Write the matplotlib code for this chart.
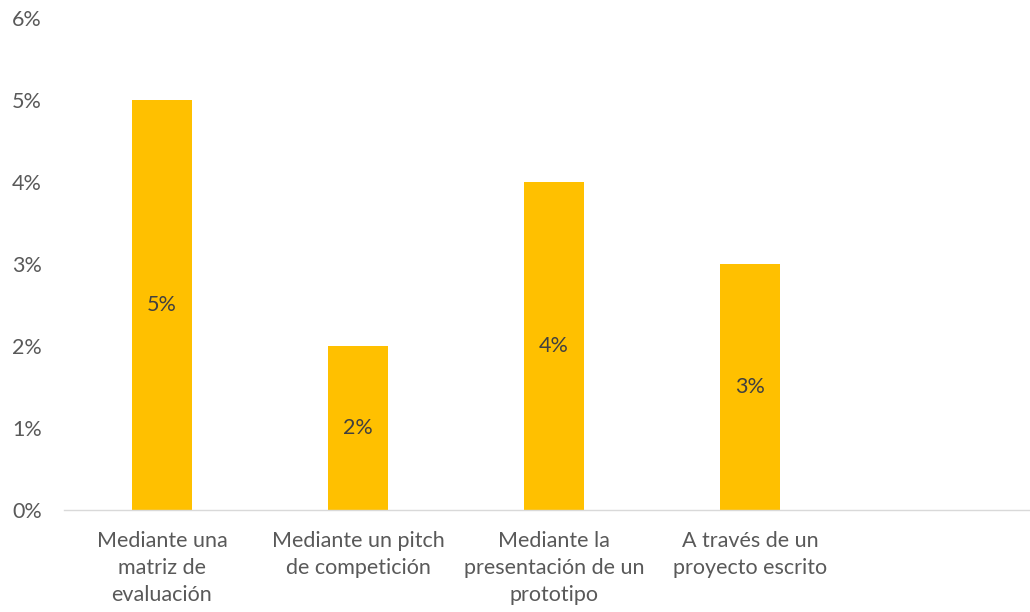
import matplotlib
matplotlib.use("Agg")
import matplotlib.pyplot as plt

# Data
categories = [
    "Mediante una\nmatriz de\nevaluación",
    "Mediante un pitch\nde competición",
    "Mediante la\npresentación de un\nprototipo",
    "A través de un\nproyecto escrito",
    "",
]
values = [5, 2, 4, 3, None]
y_ticks = [0, 1, 2, 3, 4, 5, 6]

BAR_COLOR = "#FFC000"
TEXT_COLOR = "#595959"
FONT_SIZE = 15.5

plt.rcParams["font.family"] = ["Lato", "DejaVu Sans"]

fig = plt.figure(figsize=(10.30, 6.12), dpi=100)
ax = fig.add_axes([64 / 1030, 102 / 612, 980 / 1030, 492 / 612])

xs = list(range(len(categories)))
for x, v in zip(xs, values):
    if v is None:
        continue
    ax.bar(x, v, width=0.31, color=BAR_COLOR, zorder=2)
    ax.text(x, v / 2, f"{v}%", ha="center", va="center",
            fontsize=FONT_SIZE, color="#404040")

ax.set_xlim(-0.5, len(categories) - 0.5)
ax.set_ylim(0, 6)
ax.set_yticks(y_ticks)
ax.set_yticklabels([f"{t}%" for t in y_ticks], fontsize=FONT_SIZE, color=TEXT_COLOR)
ax.set_xticks(xs)
ax.set_xticklabels(categories, fontsize=FONT_SIZE, color=TEXT_COLOR, linespacing=1.45)

for side in ["top", "right", "left"]:
    ax.spines[side].set_visible(False)
ax.spines["bottom"].set_color("#D9D9D9")
ax.spines["bottom"].set_linewidth(1.0)
ax.tick_params(axis="both", length=0)
ax.tick_params(axis="y", pad=16)
ax.tick_params(axis="x", pad=15)

fig.savefig("out.png", dpi=100)
